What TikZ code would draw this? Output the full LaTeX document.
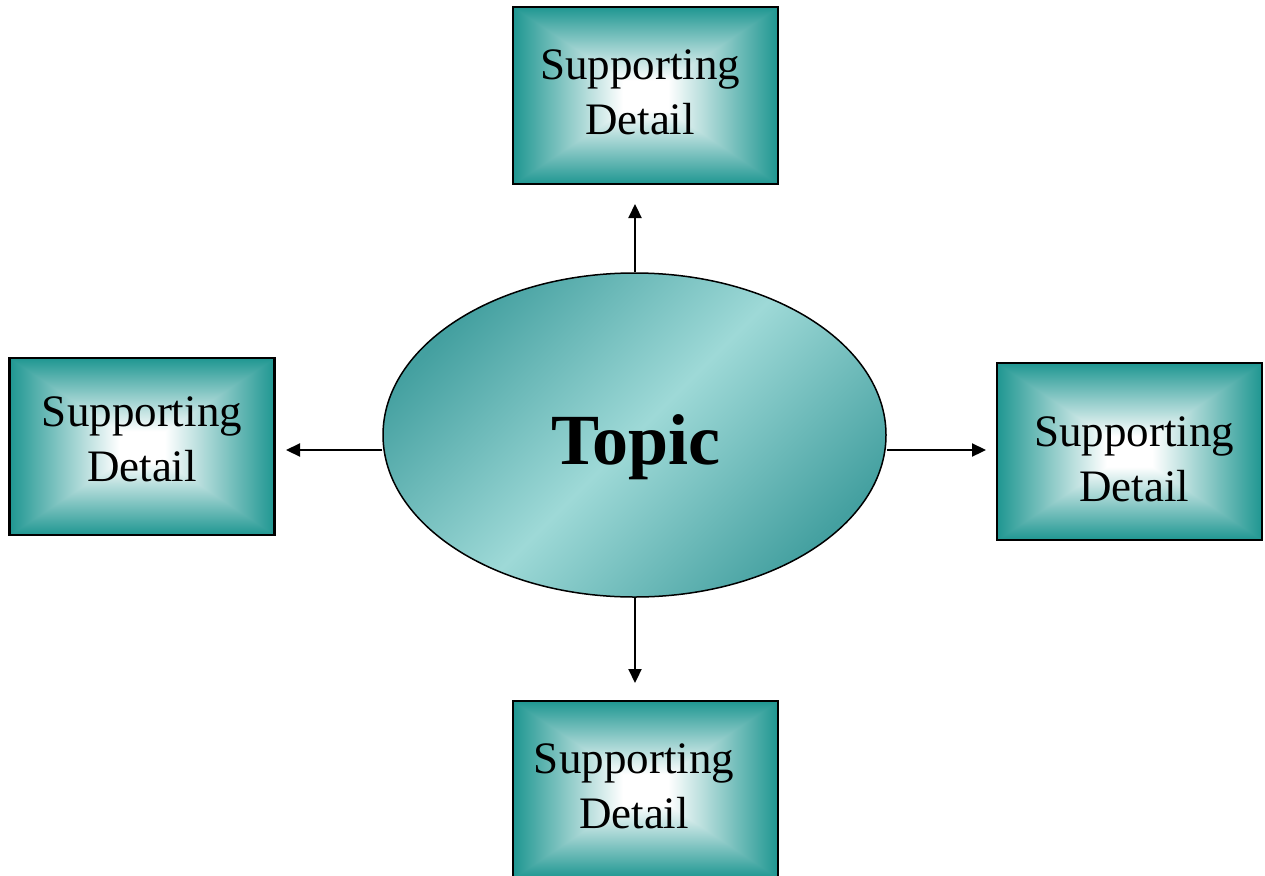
\documentclass[tikz,border=0pt]{standalone}
\usepackage{fontspec}
\setmainfont{Liberation Serif}
\usetikzlibrary{shapes.geometric,arrows.meta}
\definecolor{ellDark}{RGB}{68,160,160}
\definecolor{ellLight}{RGB}{158,217,215}
\pgfdeclarefunctionalshading{boxshade}{\pgfpoint{-50bp}{-50bp}}{\pgfpoint{50bp}{50bp}}{}{
abs exch abs 2 copy lt {exch} if pop
25 div 0.17 sub 0.83 div dup 0 lt {pop 0} if dup 1 gt {pop 1} if
dup 0.88 mul 1 exch sub
exch dup 0.41 mul 1 exch sub
exch 0.43 mul 1 exch sub
}
\tikzset{
  detailbox/.style={rectangle, draw=black, line width=2.5pt, shade, shading=boxshade,
    minimum width=265pt, minimum height=177pt, inner sep=0pt},
  detailtext/.style={align=center, inner sep=0pt, font=\fontsize{45}{55}\selectfont},
  topicell/.style={ellipse, draw=black, line width=1.5pt, inner sep=0pt,
    minimum width=503pt, minimum height=324pt, shade,
    top color=ellDark, bottom color=ellDark, middle color=ellLight, shading angle=45},
  topictext/.style={inner sep=0pt, anchor=base, font=\fontsize{72}{86}\selectfont\bfseries},
  arr/.style={line width=2.2pt, -{Triangle[length=14pt,width=13pt]}}
}
\begin{document}
\begin{tikzpicture}[x=1pt,y=-1pt]
\useasboundingbox (0,0) rectangle (1265,875);
% boxes
\node[detailbox] (bt) at (645.5,95.5) {};
\node[detailbox] (bl) at (142,446.5) {};
\node[detailbox] (br) at (1129.5,451.5) {};
\node[detailbox] (bb) at (645.5,789.5) {};
\node[detailtext] (lt) at (640,92) {Supporting\\Detail};
\node[detailtext] (ll) at (142,439) {Supporting\\Detail};
\node[detailtext] (lr) at (1134,459) {Supporting\\Detail};
\node[detailtext] (lb) at (634,786) {Supporting\\Detail};
% topic
\node[topicell] (topic) at (634.5,435) {};
\node[topictext] (tt) at (636,464) {Topic};
% arrow tips
\coordinate (tT) at (635,204);
\coordinate (tB) at (635,683);
\coordinate (tL) at (286,450);
\coordinate (tR) at (986,450);
\draw[arr] (topic.north -| tT) -- (tT);
\draw[arr] (topic.south -| tB) -- (tB);
\draw[arr] (topic.west |- tL) -- (tL);
\draw[arr] (topic.east |- tR) -- (tR);
\end{tikzpicture}
\end{document}
